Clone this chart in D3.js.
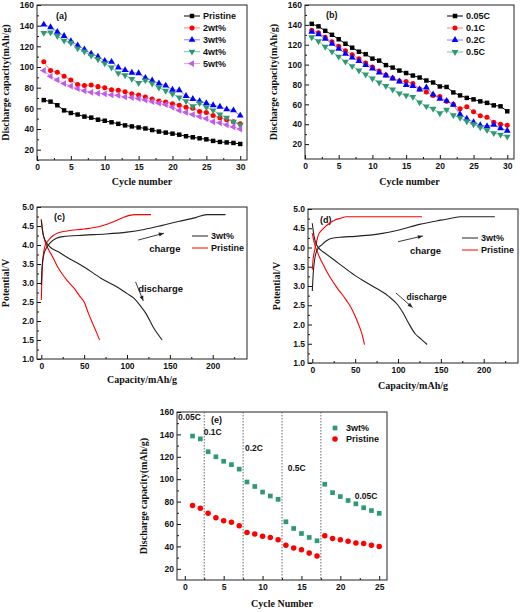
<!DOCTYPE html>
<html><head><meta charset="utf-8">
<script src="https://cdn.jsdelivr.net/npm/d3@7"></script>
<style>
body{margin:0;background:#fff;}
svg{display:block;}
.tk text{font-family:"Liberation Sans",Arial,sans-serif;font-weight:bold;font-size:8.5px;fill:#111;}
.tk path{display:none;}
.tk line{stroke:#111;stroke-width:1;}
.ttl{font-family:"Liberation Serif","Times New Roman",serif;font-weight:bold;font-size:10px;fill:#111;}
.lg{font-family:"Liberation Sans",Arial,sans-serif;font-weight:bold;font-size:9px;fill:#111;}
</style>
</head><body>
<svg id="chart" width="520" height="612"></svg>
<script>
// ---------- DATA ----------
const cycles30 = [1,2,3,4,5,6,7,8,9,10,11,12,13,14,15,16,17,18,19,20,21,22,23,24,25,26,27,28,29,30];
// panel (a) series
const aNames = ["Pristine","2wt%","3wt%","4wt%","5wt%"];
const aPristine = [68,66.5,63,58,55.5,54,52,51,49,48,46.5,45,43.5,42.5,41.5,40.5,39,37.5,36.5,35.5,34.5,33,32,31,30,28.5,27.5,27,26.5,25.5];
const a2wt = [105,96.5,95,91,87.5,83,82,82.5,81,80,78,77.5,76,74,73,71,69,67,66,64.5,63,61,60,57,56,53,51,49,47,45];
const a3wt = [141,138.5,134,130,125,121,117,113,110,106,105,99.5,97,94.5,94,89.5,87,84,82,78,77.5,72,69,67,65,63,61.5,59,58,53];
const a4wt = [133,133.5,130,125.5,123.5,118,115,111,107.5,103.5,99.5,94,92,88.5,84.5,87,84,80,77,74,70.5,67,62,65,61,58,54,51,47,44];
const a5wt = [96.5,91,87.5,84,81.5,79,77,75.5,74.5,74,73,72.5,71,70.5,69.5,68,66.5,65,63.5,61,58,56,54,52,50,47,46,44,42,40];
// panel (b) series
const bNames = ["0.05C","0.1C","0.2C","0.5C"];
const b005 = [141,138.5,134,130,125.5,121,117,113,110.5,106,104,99.5,97,94,91.5,89,87,84,82,78,77.5,72,69,66.5,65,63,61.5,59,58,53];
const b01 = [134.5,132,127.5,123,118.5,114,110,106,101.5,97.5,93.5,89.5,86.5,83.5,83,81,75.5,72.5,69,68,63,60,55.5,57.5,52.5,48.5,47,42,40,39];
const b02 = [133,130.5,126,121,116,111,107,103.5,99.5,96,92,89,86,83,79.5,78.5,75,77,70,65.5,63.5,59.5,50,45.5,42,39,38,39.5,36,33.5];
const b05 = [127.5,123.5,118,113,108,103,98.5,94,90,86,82,78.5,75,71,69,67.5,62,58,55.5,51,54.5,49,46.5,43,40,37,34,31,29.5,27.5];
// panel (c) curves [capacity, potential]
const c3wtCharge = [[0,2.95],[1,3.45],[3,3.75],[6,3.92],[10,4.05],[17,4.17],[25,4.22],[50,4.26],[75,4.29],[100,4.34],[120,4.41],[140,4.51],[160,4.62],[180,4.72],[193,4.8],[215,4.8]];
const c3wtDischarge = [[0,4.65],[2,4.3],[5,4.1],[10,3.95],[20,3.82],[30,3.68],[50,3.42],[70,3.12],[88,2.9],[100,2.72],[108,2.6],[115,2.42],[122,2.2],[131,1.82],[141,1.5]];
const cPrisCharge = [[0,2.55],[1,3.3],[2,3.65],[4,3.95],[6,4.05],[10,4.17],[14,4.25],[20,4.32],[30,4.37],[50,4.42],[70,4.5],[85,4.62],[95,4.72],[103,4.78],[110,4.8],[128,4.8]];
const cPrisDischarge = [[0,4.68],[1,4.45],[3,4.2],[8,3.9],[13,3.7],[18,3.47],[24,3.25],[30,3.07],[38,2.87],[45,2.65],[50,2.5],[55,2.2],[60,1.93],[64,1.72],[68,1.5]];
// panel (d) curves
const d3wtCharge = [[0,2.87],[1,3.3],[3,3.72],[6,3.95],[11,4.07],[17,4.18],[23,4.24],[35,4.27],[50,4.29],[80,4.36],[100,4.45],[125,4.6],[150,4.71],[170,4.79],[172,4.8],[213,4.8]];
const d3wtDischarge = [[0,4.63],[2,4.3],[5,4.07],[10,3.93],[15,3.85],[30,3.6],[50,3.27],[70,3.0],[88,2.75],[100,2.5],[106,2.3],[112,2.05],[120,1.76],[127,1.62],[134,1.48]];
const dPrisCharge = [[0,3.42],[1,3.7],[3,3.95],[5,4.15],[7,4.32],[11,4.45],[15,4.54],[20,4.63],[26,4.71],[33,4.76],[40,4.8],[128,4.8]];
const dPrisDischarge = [[0,4.37],[1,4.25],[3,4.07],[6,3.88],[9,3.72],[14,3.5],[19,3.29],[25,3.08],[30,2.92],[35,2.78],[40,2.62],[45,2.45],[50,2.22],[54,2.0],[57,1.82],[61,1.48]];
// panel (e) rate capability
const eCycles = [1,2,3,4,5,6,7,8,9,10,11,12,13,14,15,16,17,18,19,20,21,22,23,24,25];
const e3wt = [138.5,136,124.5,120,116,113,109,97.5,93.5,88.5,85,82,62,56,51.5,48,45,95.5,88,84.5,81,78,74.5,72,69.5];
const ePristine = [76.5,74,69.5,65.5,63,61.5,58.5,52.5,51,49,48,46,41,38.5,37,34,31.5,49.5,47,46,44.5,43,42.5,41,40];
const eBoundaries = [2.5,7.5,12.5,17.5];
const eRates = ["0.05C","0.1C","0.2C","0.5C","0.05C"];
// tick values
const capTicks = [20,40,60,80,100,120,140,160];
const cycTicks = [0,5,10,15,20,25,30];
const eCycTicks = [0,5,10,15,20,25];
const vTicks = [1.0,1.5,2.0,2.5,3.0,3.5,4.0,4.5,5.0];
const qTicks = [0,50,100,150,200];

// ---------- HELPERS ----------
const svg = d3.select("#chart");
const BLACK="#000000", RED="#ff0000", BLUE="#0000ff", GREEN="#2e9a74", PURPLE="#c05ce6";
const LRED="#ff8080", LBLUE="#8080ff", LGREEN="#80c0a8", LPURPLE="#dba0f0";

function panel(o){
  const g = svg.append("g");
  const x = d3.scaleLinear().domain(o.xd).range([o.l,o.r]);
  const y = d3.scaleLinear().domain(o.yd).range([o.b,o.t]);
  // minor ticks
  g.append("g").attr("class","tk").attr("transform",`translate(0,${o.b})`)
    .call(d3.axisBottom(x).tickValues(o.xMinor).tickSize(-2).tickFormat(""));
  g.append("g").attr("class","tk").attr("transform",`translate(${o.l},0)`)
    .call(d3.axisLeft(y).tickValues(o.yMinor).tickSize(-2).tickFormat(""));
  g.append("g").attr("class","tk").attr("transform",`translate(0,${o.b})`)
    .call(d3.axisBottom(x).tickValues(o.xt).tickSize(-4).tickPadding(4).tickFormat(o.xf||d3.format("d")));
  g.append("g").attr("class","tk").attr("transform",`translate(${o.l},0)`)
    .call(d3.axisLeft(y).tickValues(o.yt).tickSize(-4).tickPadding(3).tickFormat(o.yf||d3.format("d")));
  g.append("rect").attr("x",o.l).attr("y",o.t).attr("width",o.r-o.l).attr("height",o.b-o.t)
    .attr("fill","none").attr("stroke","#222").attr("stroke-width",1);
  g.append("text").attr("class","ttl").attr("text-anchor","middle")
    .attr("x",(o.l+o.r)/2).attr("y",o.xty).text(o.xTitle);
  g.append("text").attr("class","ttl").attr("text-anchor","middle")
    .attr("transform",`translate(${o.ytx},${(o.t+o.b)/2}) rotate(-90)`).text(o.yTitle);
  g.append("text").attr("class","lg").attr("x",o.tagX).attr("y",o.tagY).text(o.tag);
  return {g,x,y};
}
function sym(type, rot){
  return {type, rot};
}
const SQ=sym(d3.symbolSquare,0), CI=sym(d3.symbolCircle,0), TU=sym(d3.symbolTriangle,0),
      TD=sym(d3.symbolTriangle,180), TL=sym(d3.symbolTriangle,-90);
function markers(g, x, y, xs, ys, s, color, size){
  const p = d3.symbol().type(s.type).size(size)();
  g.append("g").selectAll("path").data(ys).join("path")
    .attr("d",p).attr("fill",color)
    .attr("transform",(d,i)=>`translate(${x(xs[i])},${y(d)}) rotate(${s.rot})`);
}
function series(g,x,y,xs,ys,s,color,lcolor,size){
  g.append("path").datum(ys).attr("fill","none").attr("stroke",lcolor).attr("stroke-width",1)
    .attr("d",d3.line().x((d,i)=>x(xs[i])).y(d=>y(d)));
  markers(g,x,y,xs,ys,s,color,size);
}
function legendRow(g, lx, ly, label, s, color, lcolor, size, withLine){
  if(withLine){
    g.append("line").attr("x1",lx-8).attr("x2",lx+8).attr("y1",ly).attr("y2",ly)
      .attr("stroke",lcolor).attr("stroke-width",1);
  }
  if(s){
    const p = d3.symbol().type(s.type).size(size)();
    g.append("path").attr("d",p).attr("fill",color).attr("transform",`translate(${lx},${ly}) rotate(${s.rot})`);
  }
  g.append("text").attr("class","lg").attr("x",lx+11).attr("y",ly+3.2).text(label);
}
function half(arr){ const out=[]; for(let i=0;i<arr.length-1;i++) out.push((arr[i]+arr[i+1])/2); return out; }

// ---------- PANEL (a) ----------
{
  const P = panel({l:37,r:247,t:5,b:160,xd:[0,31],yd:[10,160],xt:cycTicks,yt:capTicks,
    xMinor:half(cycTicks),yMinor:[10].concat(half(capTicks)),xTitle:"Cycle number",xty:185,
    yTitle:"Discharge capacity(mAh/g)",ytx:9,tag:"(a)",tagX:56,tagY:19});
  const defs=[[aPristine,SQ,BLACK,BLACK],[a2wt,CI,RED,LRED],[a3wt,TU,BLUE,LBLUE],[a4wt,TD,GREEN,LGREEN],[a5wt,TL,PURPLE,LPURPLE]];
  defs.forEach(([ys,s,c,lc])=>series(P.g,P.x,P.y,cycles30,ys,s,c,lc,20));
  defs.forEach(([ys,s,c,lc],i)=>legendRow(P.g,192,16+i*11.9,aNames[i],s,c,lc,20,true));
}
// ---------- PANEL (b) ----------
{
  const P = panel({l:305,r:514,t:5,b:159,xd:[0,31],yd:[5,160],xt:cycTicks,yt:capTicks,
    xMinor:half(cycTicks),yMinor:half(capTicks),xTitle:"Cycle number",xty:185,
    yTitle:"Discharge capacity(mAh/g)",ytx:277,tag:"(b)",tagX:326,tagY:18});
  const defs=[[b005,SQ,BLACK,BLACK],[b01,CI,RED,LRED],[b02,TU,BLUE,LBLUE],[b05,TD,GREEN,LGREEN]];
  defs.forEach(([ys,s,c,lc])=>series(P.g,P.x,P.y,cycles30,ys,s,c,lc,20));
  defs.forEach(([ys,s,c,lc],i)=>legendRow(P.g,455,16+i*12,bNames[i],s,c,lc,20,true));
}
// ---------- PANELS (c) and (d) ----------
function vPanel(o, c3, d3w, cp, dp, ann){
  const P = panel(Object.assign({xd:[-5,240],yd:[1,5],xt:qTicks,yt:vTicks,
    xMinor:[25,75,125,175,225],yMinor:[1.25,1.75,2.25,2.75,3.25,3.75,4.25,4.75],
    xTitle:"Capacity/mAh/g",yTitle:"Potential/V",yf:d3.format(".1f")},o));
  const line = d3.line().x(d=>P.x(d[0])).y(d=>P.y(d[1])).curve(d3.curveMonotoneX);
  [[cp,RED],[dp,RED],[c3,"#222"],[d3w,"#222"]].forEach(([d,c])=>{
    P.g.append("path").datum(d).attr("fill","none").attr("stroke",c).attr("stroke-width",1.1).attr("d",line);
  });
  // legend
  legendRow(P.g,o.legX,o.legY,"3wt%",null,null,"#222",0,true);
  legendRow(P.g,o.legX,o.legY+12,"Pristine",null,null,RED,0,true);
  // annotations
  const g=P.g;
  g.append("text").attr("class","lg").style("font-size","9.5px").attr("x",P.x(ann.ct[0])).attr("y",P.y(ann.ct[1])).text("charge");
  g.append("text").attr("class","lg").style("font-size",ann.dfs).attr("x",P.x(ann.dt[0])).attr("y",P.y(ann.dt[1])).text("discharge");
  [ann.ca,ann.da].forEach(a=>{
    const x1=P.x(a[0]),y1=P.y(a[1]),x2=P.x(a[2]),y2=P.y(a[3]);
    g.append("line").attr("x1",x1).attr("y1",y1).attr("x2",x2).attr("y2",y2).attr("stroke","#222").attr("stroke-width",0.9);
    const ang=Math.atan2(y2-y1,x2-x1)*180/Math.PI;
    g.append("path").attr("d","M0,0L-5,-2L-5,2Z").attr("fill","#222")
      .attr("transform",`translate(${x2},${y2}) rotate(${ang})`);
  });
}
vPanel({l:37,r:247,t:207,b:359,xty:383,ytx:9,tag:"(c)",tagX:54,tagY:220,legX:200,legY:236},
  c3wtCharge,c3wtDischarge,cPrisCharge,cPrisDischarge,
  {ct:[126,3.81],dt:[113,2.76],dfs:"9.5px",ca:[113,4.13,143,4.31],da:[110,3.03,119,2.53]});
vPanel({l:308,r:518,t:209,b:363,xty:389,ytx:280,tag:"(d)",tagX:320,tagY:223,legX:470,legY:238},
  d3wtCharge,d3wtDischarge,dPrisCharge,dPrisDischarge,
  {ct:[114,3.83],dt:[110,2.64],dfs:"8.5px",ca:[100,4.15,129,4.3],da:[97.5,2.82,117,2.44]});
// ---------- PANEL (e) ----------
{
  const P = panel({l:177,r:387,t:412,b:580,xd:[-1,26],yd:[10,160],xt:eCycTicks,yt:capTicks,
    xMinor:half(eCycTicks),yMinor:half(capTicks),xTitle:"Cycle Number",xty:607,
    yTitle:"Discharge capacity(mAh/g)",ytx:147,tag:"(e)",tagX:211,tagY:423});
  P.g.selectAll(".bnd").data(eBoundaries).join("line").attr("class","bnd")
    .attr("x1",d=>P.x(d)).attr("x2",d=>P.x(d)).attr("y1",412).attr("y2",580)
    .attr("stroke","#555").attr("stroke-width",0.9).attr("stroke-dasharray","1.5,1.5");
  markers(P.g,P.x,P.y,eCycles,e3wt,SQ,GREEN,22);
  markers(P.g,P.x,P.y,eCycles,ePristine,CI,RED,24);
  const rp=[[0.6,152.5],[3.6,139.5],[8.9,125.5],[14.4,107],[17.8,114]];
  P.g.selectAll(".rate").data(eRates).join("text").attr("class","lg rate").attr("text-anchor","middle")
    .style("font-size","8.5px")
    .attr("x",(d,i)=>P.x(rp[i][0])).attr("y",(d,i)=>P.y(rp[i][1])).attr("dx",(d,i)=>i===4?0:0).text(d=>d)
    .attr("x",(d,i)=>i===4?P.x(rp[i][0])+0:P.x(rp[i][0]));
  // reposition last label (0.05C on right group)
  P.g.selectAll(".rate").filter((d,i)=>i===4).attr("x",P.x(23.3)).attr("y",P.y(82));
  legendRow(P.g,335,428,"3wt%",SQ,GREEN,null,22,false);
  legendRow(P.g,335,439,"Pristine",CI,RED,null,24,false);
}
</script>
</body></html>
